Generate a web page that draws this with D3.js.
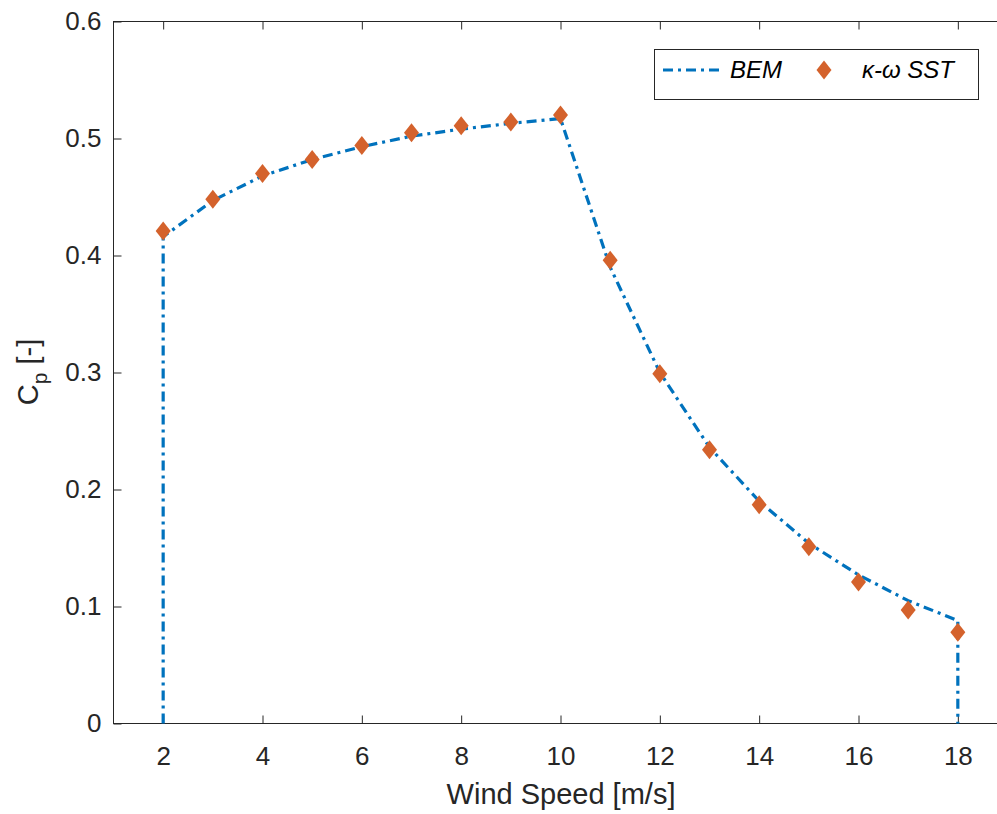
<!DOCTYPE html>
<html><head><meta charset="utf-8">
<script src="https://cdn.jsdelivr.net/npm/d3@7"></script>
<style>body{margin:0;background:#fff;}svg{display:block;font-family:"Liberation Sans",Arial,sans-serif;}</style>
</head><body><svg id="c" width="997" height="814"></svg>
<script>
const windBEM = [2,2,3,4,5,6,7,8,9,10,11,12,13,14,15,16,17,18,18];
const cpBEM   = [0,0.416,0.447,0.468,0.482,0.493,0.502,0.508,0.513,0.517,0.39,0.30,0.236,0.19,0.154,0.127,0.105,0.088,0];
const windSST = [2,3,4,5,6,7,8,9,10,11,12,13,14,15,16,17,18];
const cpSST   = [0.421,0.448,0.470,0.482,0.494,0.505,0.511,0.514,0.520,0.396,0.299,0.234,0.187,0.151,0.121,0.097,0.078];
const xTicks = [2,4,6,8,10,12,14,16,18];
const yTicks = [0,0.1,0.2,0.3,0.4,0.5,0.6];

const svg = d3.select("#c");
const L=113.5, T=21.5, B=723.5, R=1007.5;
const x = d3.scaleLinear().domain([1,19]).range([L,R]);
const y = d3.scaleLinear().domain([0,0.6]).range([B,T]);
const axisCol="#262626";

svg.append("rect").attr("x",L).attr("y",T).attr("width",R-L).attr("height",B-T)
  .attr("fill","none").attr("stroke",axisCol).attr("stroke-width",1);

const gx = svg.append("g").attr("transform",`translate(0,${B})`)
  .call(d3.axisBottom(x).tickValues(xTicks).tickSizeInner(-8).tickSizeOuter(0).tickPadding(23).tickFormat(d3.format("d")));
const gxt = svg.append("g").attr("transform",`translate(0,${T})`)
  .call(d3.axisTop(x).tickValues(xTicks).tickSizeInner(-8).tickSizeOuter(0).tickFormat(""));
const gy = svg.append("g").attr("transform",`translate(${L},0)`)
  .call(d3.axisLeft(y).tickValues(yTicks).tickSizeInner(-8).tickSizeOuter(0).tickPadding(12).tickFormat(d=>d===0?"0":d3.format(".1f")(d)));
const gyr = svg.append("g").attr("transform",`translate(${R},0)`)
  .call(d3.axisRight(y).tickValues(yTicks).tickSizeInner(-8).tickSizeOuter(0).tickFormat(""));
[gx,gxt,gy,gyr].forEach(g=>{
  g.attr("font-size",null).attr("font-family",null);
  g.select(".domain").remove();
  g.selectAll("line").attr("stroke",axisCol);
  g.selectAll("text").attr("fill",axisCol).style("font-size","26px");
});

const line = d3.line().x((d,i)=>x(windBEM[i])).y(d=>y(d));
svg.append("path").datum(cpBEM).attr("d",line).attr("fill","none")
  .attr("stroke","#0072BD").attr("stroke-width",3.2).attr("stroke-dasharray","10,5,3,5");

const diamond = (cx,cy)=>`M${cx},${cy-9.5}L${cx+7.5},${cy}L${cx},${cy+9.5}L${cx-7.5},${cy}Z`;
svg.append("g").selectAll("path").data(cpSST).join("path")
  .attr("d",(d,i)=>diamond(x(windSST[i]),y(d))).attr("fill","#D4622C");

svg.append("text").attr("x",561).attr("y",804).attr("text-anchor","middle")
  .attr("fill",axisCol).style("font-size","29px").text("Wind Speed [m/s]");
const yl = svg.append("text").attr("transform","translate(38,372) rotate(-90)").attr("text-anchor","middle")
  .attr("fill",axisCol).style("font-size","29px");
yl.append("tspan").text("C");
yl.append("tspan").attr("dy",9).style("font-size","21px").text("p");
yl.append("tspan").attr("dy",-9).text(" [-]");

const lg = svg.append("g");
lg.append("rect").attr("x",654.5).attr("y",49.5).attr("width",324).attr("height",50)
  .attr("fill","#fff").attr("stroke",axisCol).attr("stroke-width",1);
lg.append("line").attr("x1",663).attr("x2",724).attr("y1",70).attr("y2",70)
  .attr("stroke","#0072BD").attr("stroke-width",3.2).attr("stroke-dasharray","10,5,3,5");
lg.append("text").attr("x",730).attr("y",78).style("font-size","24px").style("font-style","italic").attr("fill","#000").text("BEM");
lg.append("path").attr("d",diamond(824,70)).attr("fill","#D4622C");
lg.append("text").attr("x",862).attr("y",78).style("font-size","24px").style("font-style","italic").attr("fill","#000").text("κ-ω SST");
</script></body></html>
